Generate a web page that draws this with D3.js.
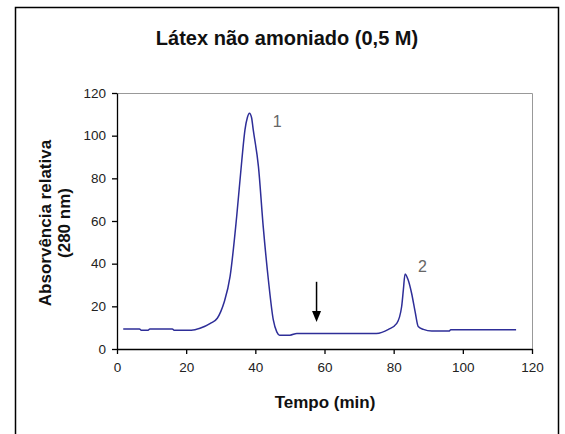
<!DOCTYPE html>
<html lang="pt">
  <head>
    <meta charset="utf-8">
    <title>Látex não amoniado</title>
    <script src="https://cdn.jsdelivr.net/npm/d3@7"></script>
    <style>
      body { margin: 0; background: #fff; }
      text { font-family: Arial, "Liberation Sans", sans-serif; }
    </style>
  </head>
  <body>
    <script>
      // Data
      var tempo = [1.8, 6.5, 7, 9, 9.5, 16, 16.5, 21.5, 24, 27, 29, 30, 31, 32.7, 34.6, 36.1, 37, 37.7, 38.3, 38.9, 39.4, 40.9, 42.3, 43.8, 45.2, 46.2, 47, 50, 52, 75, 78.5, 80.9, 82.3, 82.8, 83.3, 84.2, 85.2, 86.2, 87.1, 88.6, 91, 96, 96.5, 115.4];
      var absorv = [9.4, 9.4, 8.8, 8.8, 9.4, 9.4, 8.8, 8.8, 9.7, 12, 14.4, 17.5, 22, 34, 62, 88.6, 102.7, 108.5, 110.5, 108.5, 102.7, 85.5, 57, 32, 13.6, 8, 6.5, 6.5, 7.3, 7.3, 9.2, 12, 19.8, 27.7, 35.2, 32.3, 26, 17.5, 10.5, 9.2, 8.4, 8.4, 9, 9];
      var xTicks = [0, 20, 40, 60, 80, 100, 120];
      var yTicks = [0, 20, 40, 60, 80, 100, 120];
      var peakLabels = ["1", "2"];
      var peakX = [46.3, 88.3];
      var peakY = [104, 36];
      var arrowX = [57.7, 57.7];
      var arrowY = [31.5, 12.7];

      var W = 565, H = 434;
      var margin = {top: 93, right: 33, bottom: 85, left: 117};
      var width = W - margin.left - margin.right;
      var height = H - margin.top - margin.bottom;

      var svg = d3.select("body").append("svg")
                  .attr("width", W)
                  .attr("height", H);

      // outer frame (open at the bottom)
      svg.append("path")
        .attr("d", "M15.5," + H + "V7.5H558.5V" + H)
        .attr("fill", "none")
        .attr("stroke", "#000")
        .attr("stroke-width", 1.5);

      svg.append("text")
        .attr("x", 287)
        .attr("y", 45)
        .attr("text-anchor", "middle")
        .attr("font-size", 20)
        .attr("font-weight", "bold")
        .attr("fill", "#111")
        .text("Látex não amoniado (0,5 M)");

      var g = svg.append("g")
                 .attr("transform", "translate(" + margin.left + "," + margin.top + ")");

      var x = d3.scaleLinear().domain([0, 120]).range([0, width]);
      var y = d3.scaleLinear().domain([0, 120]).range([height, 0]);

      // plot area border (gray top + right)
      g.append("path")
        .attr("d", "M0,0.5H" + (width + 0.5) + "V" + height)
        .attr("fill", "none")
        .attr("stroke", "#999")
        .attr("stroke-width", 1);

      var xAxis = g.append("g")
        .attr("transform", "translate(0," + height + ")")
        .call(d3.axisBottom(x).tickValues(xTicks).tickSize(5).tickPadding(8).tickSizeOuter(0));
      var yAxis = g.append("g")
        .call(d3.axisLeft(y).tickValues(yTicks).tickSize(5).tickPadding(6).tickSizeOuter(0));

      [xAxis, yAxis].forEach(function(a) {
        a.select(".domain").attr("stroke", "#000").attr("stroke-width", 1.3);
        a.selectAll(".tick line").attr("stroke", "#000").attr("stroke-width", 1.3);
        a.selectAll(".tick text")
          .attr("font-family", "Arial, 'Liberation Sans', sans-serif")
          .attr("font-size", 13.5)
          .attr("fill", "#222");
      });

      // data line
      var pts = tempo.map(function(t, i) { return [t, absorv[i]]; });
      var line = d3.line()
                   .curve(d3.curveMonotoneX)
                   .x(function(d) { return x(d[0]); })
                   .y(function(d) { return y(d[1]); });
      g.append("path")
        .datum(pts)
        .attr("d", line)
        .attr("fill", "none")
        .attr("stroke", "#2e2e98")
        .attr("stroke-width", 1.5)
        .attr("stroke-linejoin", "round");

      // peak labels
      g.selectAll(".peak")
        .data(peakLabels)
        .enter()
        .append("text")
        .attr("class", "peak")
        .attr("x", function(d, i) { return x(peakX[i]); })
        .attr("y", function(d, i) { return y(peakY[i]); })
        .attr("text-anchor", "middle")
        .attr("font-size", 16)
        .attr("fill", "#666")
        .text(function(d) { return d; });

      // arrow
      g.append("line")
        .attr("x1", x(arrowX[0])).attr("y1", y(arrowY[0]))
        .attr("x2", x(arrowX[1])).attr("y2", y(arrowY[1]) - 8)
        .attr("stroke", "#000")
        .attr("stroke-width", 1.5);
      var ax = x(arrowX[1]), ay = y(arrowY[1]);
      g.append("path")
        .attr("d", "M" + (ax - 4.5) + "," + (ay - 11) + "L" + (ax + 4.5) + "," + (ay - 11) + "L" + ax + "," + ay + "Z")
        .attr("fill", "#000");

      // axis titles
      svg.append("text")
        .attr("x", 325)
        .attr("y", 408)
        .attr("text-anchor", "middle")
        .attr("font-size", 17)
        .attr("font-weight", "bold")
        .attr("fill", "#111")
        .text("Tempo (min)");

      var yl = svg.append("text")
        .attr("transform", "translate(51,223) rotate(-90)")
        .attr("text-anchor", "middle")
        .attr("font-size", 17)
        .attr("font-weight", "bold")
        .attr("fill", "#111");
      yl.append("tspan").attr("x", 0).attr("dy", 0).text("Absorvência relativa");
      yl.append("tspan").attr("x", 0).attr("dy", 19).text("(280 nm)");
    </script>
  </body>
</html>
